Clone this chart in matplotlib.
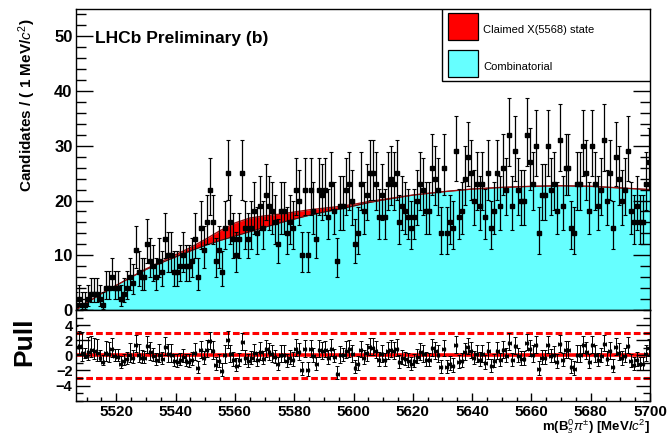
import numpy as np
import matplotlib
matplotlib.use('Agg')
import matplotlib.pyplot as plt
from matplotlib.patches import Rectangle
from matplotlib.ticker import MultipleLocator

plt.rcParams['font.family'] = ['Liberation Sans', 'DejaVu Sans']
plt.rcParams['mathtext.fontset'] = 'custom'
plt.rcParams['mathtext.rm'] = 'Liberation Sans'
plt.rcParams['mathtext.it'] = 'Liberation Sans:italic'
plt.rcParams['mathtext.bf'] = 'Liberation Sans:bold'

# ---------------- data ----------------
mass_low = 5506.0          # first bin lower edge, 1 MeV bins
counts = [
    1, 2, 1, 1, 2, 3, 3, 3, 2, 1,
    4, 4, 6, 4, 4, 2, 3, 4, 6, 5,
    11, 7, 6, 6, 12, 9, 8, 6, 9, 7,
    13, 10, 10, 7, 7, 8, 10, 8, 8, 9,
    13, 6, 15, 11, 16, 22, 16, 9, 11, 7,
    15, 25, 16, 13, 10, 13, 25, 15, 13, 15,
    18, 14, 19, 15, 21, 19, 18, 16, 12, 18,
    18, 14, 16, 15, 22, 20, 10, 22, 10, 22,
    18, 13, 22, 21, 22, 17, 23, 18, 9, 19,
    19, 22, 23, 20, 12, 14, 23, 18, 21, 25,
    25, 23, 17, 21, 17, 23, 24, 23, 25, 16,
    19, 18, 17, 15, 17, 20, 23, 22, 18, 18,
    26, 24, 22, 14, 26, 14, 16, 15, 29, 17,
    18, 24, 28, 25, 20, 23, 19, 23, 17, 25,
    15, 18, 25, 19, 26, 22, 32, 19, 29, 22,
    20, 20, 32, 27, 23, 30, 14, 21, 21, 30,
    22, 23, 18, 31, 19, 26, 26, 15, 14, 23,
    23, 30, 25, 18, 30, 23, 19, 22, 31, 20,
    25, 15, 28, 24, 20, 22, 29, 18, 16, 19,
    16, 16, 23, 27,
]

fit_mass = [5506.4, 5510, 5515, 5520, 5525, 5530, 5535, 5540, 5545, 5550,
            5555, 5560, 5565, 5570, 5575, 5580, 5585, 5590, 5595, 5600,
            5605, 5610, 5620, 5630, 5640, 5650, 5660, 5670, 5680, 5690, 5700]
fit_bkg = [0, 1.3, 3.0, 4.5, 6.0, 7.4, 8.6, 9.7, 10.8, 11.8,
           12.7, 13.5, 14.3, 15.1, 15.9, 16.6, 17.3, 17.9, 18.4, 19.0,
           19.6, 20.1, 21.0, 21.6, 22.1, 22.4, 22.6, 22.7, 22.6, 22.3, 22.0]
fit_total = [0, 1.3, 3.0, 4.5, 6.0, 7.5, 8.8, 10.1, 11.4, 12.9,
             14.5, 15.9, 16.8, 17.2, 17.5, 17.9, 18.3, 18.6, 18.9, 19.3,
             19.8, 20.2, 21.0, 21.6, 22.1, 22.4, 22.6, 22.7, 22.6, 22.3, 22.0]

legend_labels = ['Claimed X(5568) state', 'Combinatorial']
x_ticks = [5520, 5540, 5560, 5580, 5600, 5620, 5640, 5660, 5680, 5700]

# ---------------- derived quantities ----------------
n = np.array(counts, dtype=float)
centers = mass_low + 0.5 + np.arange(len(n))
# Poisson (Gehrels) asymmetric errors
with np.errstate(divide='ignore', invalid='ignore'):
    lo_lim = np.where(n > 0, n * (1 - 1 / (9 * n) - 1 / (3 * np.sqrt(n))) ** 3, 0.0)
hi_lim = (n + 1) * (1 - 1 / (9 * (n + 1)) + 1 / (3 * np.sqrt(n + 1))) ** 3
e_lo = n - lo_lim
e_hi = hi_lim - n

f_at = np.interp(centers, fit_mass, fit_total)
err = np.where(n > f_at, e_lo, e_hi)
err = np.where(err > 0, err, 1.0)
pull = (n - f_at) / err
p_lo = e_lo / err
p_hi = e_hi / err

# ---------------- figure ----------------
W, H = 669, 438
fig = plt.figure(figsize=(W / 100, H / 100), dpi=100)
L, R = 76 / W, 650 / W
main_top, main_bot, pull_bot = 1 - 9 / H, 1 - 310 / H, 1 - 400.7 / H
ax = fig.add_axes([L, main_bot, R - L, main_top - main_bot])
axp = fig.add_axes([L, pull_bot, R - L, main_bot - pull_bot])

cyan = '#66ffff'
ax.fill_between(fit_mass, 0, fit_bkg, color=cyan, lw=0, zorder=1)
ax.fill_between(fit_mass, fit_bkg, fit_total, color='#ff0000', lw=0, zorder=1.1)
ax.plot(fit_mass, fit_bkg, color='#202020', lw=0.7, zorder=1.2)
ax.plot(fit_mass, fit_total, color='#a01010', lw=1.0, zorder=1.3)

ax.errorbar(centers, n, yerr=[e_lo, e_hi], xerr=0.5, fmt='s', ms=2.6,
            color='k', ecolor='k', elinewidth=0.9, capsize=1.6, capthick=0.8, zorder=3)

ax.set_xlim(mass_low + 0.4, 5700)
ax.set_ylim(0, 55)
ax.yaxis.set_major_locator(MultipleLocator(10))
ax.yaxis.set_minor_locator(MultipleLocator(2))
ax.tick_params(axis='y', which='both', direction='in', left=True, right=True,
               labelsize=12, pad=2.5)
ax.tick_params(axis='y', which='major', length=12, width=1)
ax.tick_params(axis='y', which='minor', length=7, width=1)
ax.tick_params(axis='x', which='both', bottom=False, top=False, labelbottom=False)
for lab in ax.get_yticklabels():
    lab.set_fontweight('bold')
for sp in ax.spines.values():
    sp.set_linewidth(1.0)

ax.text((95 - 76) / 574, (310 - 39) / 301, 'LHCb Preliminary (b)', transform=ax.transAxes,
        fontsize=12.5, fontweight='bold', va='center', ha='left')

# legend box
ax.add_patch(Rectangle((0.637, 0.761), 0.363, 0.239, transform=ax.transAxes,
                       facecolor='white', edgecolor='k', lw=1.0, zorder=5))
ax.add_patch(Rectangle((0.648, 0.897), 0.052, 0.089, transform=ax.transAxes,
                       facecolor='#ff0000', edgecolor='k', lw=0.9, zorder=6))
ax.add_patch(Rectangle((0.648, 0.775), 0.052, 0.089, transform=ax.transAxes,
                       facecolor=cyan, edgecolor='k', lw=0.9, zorder=6))
ax.text(0.709, 0.930, legend_labels[0], transform=ax.transAxes, fontsize=8,
        va='center', ha='left', zorder=7)
ax.text(0.709, 0.808, legend_labels[1], transform=ax.transAxes, fontsize=8,
        va='center', ha='left', zorder=7)

# pull panel
axp.axhline(0, color='#ff0000', lw=2.6, zorder=1)
axp.axhline(3, color='#ff0000', lw=2.2, ls=(0, (2.2, 1.0)), zorder=1)
axp.axhline(-3, color='#ff0000', lw=2.2, ls=(0, (2.2, 1.0)), zorder=1)
axp.errorbar(centers, pull, yerr=[p_lo, p_hi], xerr=0.5, fmt='s', ms=1.6,
             color='k', ecolor='k', elinewidth=0.7, capsize=1.3, capthick=0.7, zorder=3)
axp.set_xlim(mass_low + 0.4, 5700)
axp.set_ylim(-6, 6)
axp.set_yticks([-4, -2, 0, 2, 4])
axp.yaxis.set_minor_locator(MultipleLocator(1))
axp.set_xticks(x_ticks)
axp.xaxis.set_minor_locator(MultipleLocator(5))
axp.tick_params(axis='y', which='both', direction='in', left=True, right=True,
                labelsize=10.5, pad=2.5)
axp.tick_params(axis='y', which='major', length=10, width=1)
axp.tick_params(axis='y', which='minor', length=5, width=1)
axp.tick_params(axis='x', which='both', direction='in', bottom=True, top=False,
                labelsize=11, pad=3)
axp.tick_params(axis='x', which='major', length=6, width=1)
axp.tick_params(axis='x', which='minor', length=3, width=1)
for lab in axp.get_yticklabels() + axp.get_xticklabels():
    lab.set_fontweight('bold')
for sp in axp.spines.values():
    sp.set_linewidth(1.0)

fig.text(27 / W, 1 - 105 / H, r'Candidates / ( 1 MeV/$c^{2}$)', rotation=90,
         fontsize=11, fontweight='bold', ha='center', va='center')
fig.text(24 / W, 1 - 342 / H, 'Pull', rotation=90, fontsize=19, fontweight='bold',
         ha='center', va='center')
fig.text(650 / W, 1 - 427 / H, r'm(B$^{0}_{s}$$\pi^{\pm}$) [MeV/$c^{2}$]',
         fontsize=9.5, fontweight='bold', ha='right', va='center')

fig.savefig('out.png', dpi=100)
